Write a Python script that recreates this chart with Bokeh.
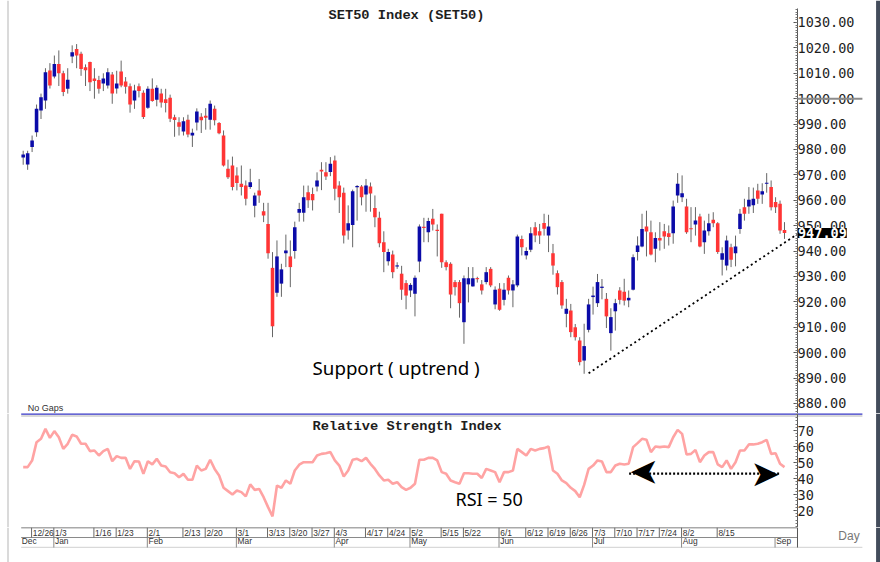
import numpy as np
from bokeh.plotting import figure
from bokeh.layouts import column
from bokeh.models import (Range1d, FixedTicker, Label, Arrow, Span, LinearAxis,
                          ColumnDataSource)
from bokeh.embed import file_html
from bokeh.resources import INLINE
from bokeh.core.properties import value

# ---------------- data ----------------
opens = [976.8, 974.1, 981.0, 986.8, 995.4, 999.3, 1011.1, 1008.7, 1013.7, 1010.0,
         1003.9, 1016.6, 1019.6, 1017.7, 1012.4, 1014.4, 1008.0, 1007.4, 1006.0, 1005.2,
         1009.5, 1004.0, 1010.7, 1006.8, 1004.9, 999.3, 1004.9, 1002.3, 996.4, 1003.9,
         999.6, 1002.0, 999.8, 1000.4, 992.7, 990.7, 987.1, 991.7, 985.5, 990.6,
         992.9, 993.3, 991.7, 996.0, 990.4, 985.5, 972.4, 973.7, 969.8, 966.5,
         965.8, 965.2, 957.9, 963.9, 955.7, 950.7, 933.4, 923.6, 927.2, 939.2,
         937.9, 940.0, 955.1, 955.1, 963.2, 962.5, 965.4, 972.0, 971.0, 971.1,
         975.7, 965.8, 963.0, 948.1, 950.3, 965.2, 965.4, 962.3, 965.4, 957.0,
         953.1, 943.5, 936.0, 938.7, 934.0, 931.1, 927.4, 924.5, 923.2, 935.9,
         949.5, 947.4, 952.7, 948.3, 954.7, 935.6, 935.0, 927.8, 927.8, 912.0,
         926.9, 926.1, 929.3, 926.9, 927.8, 933.0, 919.0, 925.2, 920.8, 929.5,
         924.5, 926.5, 944.8, 938.3, 940.5, 949.4, 947.8, 951.1, 946.1, 939.2,
         931.3, 927.8, 915.3, 916.6, 910.0, 904.8, 896.9, 909.0, 921.9, 919.5,
         925.5, 921.2, 907.7, 916.3, 924.5, 924.0, 920.6, 924.8, 939.6, 941.8,
         949.7, 947.4, 940.9, 945.2, 947.8, 947.0, 947.0, 961.9, 961.2, 957.6,
         948.9, 950.5, 953.6, 943.5, 947.8, 952.3, 951.0, 936.6, 934.3, 941.5,
         939.2, 948.7, 957.3, 957.6, 958.0, 963.9, 962.3, 966.5, 965.2, 959.3,
         958.6, 948.3]
highs = [979.5, 979.5, 985.5, 997.7, 1002.0, 1012.0, 1014.0, 1017.0, 1019.0, 1011.0,
         1012.0, 1021.0, 1021.5, 1018.5, 1013.5, 1014.6, 1012.0, 1009.0, 1010.0, 1012.0,
         1010.5, 1011.0, 1015.0, 1008.5, 1006.0, 1005.5, 1006.0, 1003.3, 1004.9, 1008.0,
         1005.3, 1003.9, 1003.9, 1001.6, 993.7, 992.7, 992.7, 993.7, 988.2, 996.2,
         994.3, 996.3, 999.3, 997.3, 990.8, 987.5, 976.0, 977.2, 973.0, 973.7,
         967.8, 972.4, 963.0, 968.4, 959.0, 959.0, 939.6, 944.2, 935.0, 946.5,
         944.2, 951.6, 959.0, 965.8, 965.8, 965.0, 971.0, 975.0, 975.0, 977.0,
         977.6, 967.5, 965.0, 958.0, 964.2, 966.0, 966.0, 968.4, 967.0, 961.9,
         955.5, 947.8, 940.9, 940.2, 935.6, 934.2, 928.6, 927.4, 930.4, 950.5,
         953.1, 953.1, 956.6, 950.5, 954.7, 936.4, 935.6, 928.6, 928.6, 930.4,
         933.7, 933.7, 929.9, 928.6, 933.7, 933.7, 926.1, 927.4, 927.4, 930.4,
         928.6, 946.5, 946.1, 941.5, 949.4, 951.4, 950.7, 954.7, 954.3, 942.8,
         932.4, 928.6, 921.2, 919.2, 911.3, 906.1, 911.4, 921.2, 926.0, 931.0,
         929.0, 923.5, 917.5, 921.2, 925.8, 929.1, 924.5, 938.7, 945.8, 954.7,
         955.9, 952.0, 947.4, 951.4, 950.7, 950.1, 959.9, 970.7, 969.8, 960.6,
         957.3, 957.3, 954.7, 952.0, 954.7, 955.3, 951.4, 941.5, 946.1, 942.9,
         946.1, 956.6, 960.6, 965.2, 965.0, 966.5, 966.7, 970.7, 967.8, 961.2,
         959.9, 951.4]
lows = [974.0, 972.0, 979.0, 985.0, 992.0, 996.0, 1004.0, 1008.0, 1005.0, 1001.0,
        1002.0, 1014.0, 1012.0, 1009.0, 1005.0, 1003.0, 1000.0, 1002.0, 1003.0, 1004.0,
        998.0, 1002.0, 1004.5, 1002.0, 994.5, 996.0, 1000.5, 992.0, 996.0, 998.8,
        997.0, 996.5, 994.6, 990.8, 985.0, 985.5, 985.5, 984.8, 981.0, 987.5,
        986.5, 987.8, 987.8, 989.5, 986.0, 973.3, 968.4, 963.9, 963.9, 961.9,
        958.0, 964.5, 953.3, 959.0, 951.4, 937.0, 906.1, 922.0, 922.0, 933.7,
        925.8, 937.0, 951.6, 951.6, 957.0, 956.0, 963.5, 964.0, 968.0, 969.5,
        960.0, 955.0, 943.0, 944.5, 941.5, 952.0, 958.0, 955.5, 955.5, 949.4,
        941.5, 931.7, 934.3, 929.3, 933.0, 920.8, 917.1, 921.9, 914.3, 931.7,
        943.5, 943.5, 948.1, 937.9, 933.4, 932.4, 917.5, 922.5, 913.8, 903.5,
        919.8, 926.0, 927.6, 922.9, 926.9, 925.8, 917.1, 916.5, 918.6, 922.9,
        917.9, 925.8, 938.3, 936.7, 939.6, 943.5, 942.8, 946.1, 939.6, 930.7,
        922.9, 917.3, 910.0, 906.1, 904.8, 895.0, 891.7, 908.0, 915.0, 918.0,
        921.0, 909.7, 900.8, 908.7, 919.0, 918.6, 917.9, 924.5, 936.3, 941.5,
        937.9, 938.3, 935.6, 940.2, 940.9, 942.2, 942.9, 959.0, 959.3, 946.8,
        943.5, 946.1, 941.5, 938.9, 946.1, 949.4, 938.9, 930.4, 932.4, 933.7,
        934.0, 946.8, 952.0, 954.7, 955.0, 958.6, 958.6, 963.0, 956.0, 955.0,
        946.8, 944.8]
closes = [978.0, 978.5, 983.5, 996.0, 1000.6, 1010.4, 1005.2, 1013.7, 1010.0, 1002.6,
          1007.5, 1018.3, 1017.0, 1011.7, 1011.2, 1006.5, 1007.0, 1003.9, 1008.0, 1010.4,
          1002.0, 1006.0, 1005.2, 1004.7, 997.7, 1003.2, 1003.0, 992.8, 1003.9, 999.1,
          1004.3, 998.5, 998.3, 992.1, 991.6, 989.0, 991.1, 985.9, 986.6, 995.0,
          991.5, 992.5, 998.0, 991.5, 986.4, 973.7, 969.1, 965.2, 966.8, 965.2,
          960.6, 967.1, 961.9, 961.9, 954.0, 939.2, 910.4, 937.9, 932.8, 940.2,
          933.7, 949.4, 956.6, 961.2, 960.0, 960.0, 967.8, 971.3, 969.4, 974.4,
          964.5, 961.2, 946.1, 951.0, 963.6, 965.6, 961.2, 965.8, 962.7, 953.3,
          943.1, 939.6, 939.6, 931.7, 934.3, 924.8, 922.5, 926.7, 929.5, 949.7,
          949.2, 951.8, 950.5, 948.0, 935.6, 933.7, 922.9, 925.8, 919.5, 929.3,
          929.3, 929.3, 929.0, 924.5, 931.7, 926.5, 924.8, 916.9, 924.8, 924.5,
          926.9, 945.7, 941.5, 940.0, 947.0, 946.1, 946.1, 948.8, 949.7, 934.3,
          925.8, 918.6, 917.3, 908.1, 906.1, 896.3, 902.6, 919.0, 922.5, 927.8,
          926.0, 914.3, 914.0, 919.5, 920.8, 920.5, 921.6, 937.6, 942.2, 948.7,
          947.7, 938.7, 945.2, 944.2, 945.7, 945.5, 957.6, 966.5, 962.8, 947.4,
          948.7, 952.0, 941.8, 948.1, 951.0, 951.0, 939.6, 939.2, 944.2, 936.6,
          941.8, 954.7, 954.7, 960.2, 960.6, 960.6, 963.6, 966.9, 957.3, 957.3,
          948.1, 947.09]
rsi = [47.1, 47.1, 51.2, 62.7, 64.8, 71.0, 65.4, 69.6, 65.8, 58.5,
       61.7, 67.3, 66.3, 61.7, 61.7, 57.1, 57.5, 54.4, 57.1, 58.5,
       50.8, 54.0, 52.9, 52.9, 46.0, 50.8, 50.6, 42.9, 50.8, 48.8,
       52.3, 48.1, 47.5, 43.9, 43.3, 40.8, 42.9, 39.2, 39.2, 48.1,
       45.0, 46.0, 51.7, 46.0, 41.9, 34.2, 32.1, 30.0, 32.5, 31.5,
       28.8, 36.3, 32.9, 33.5, 28.3, 22.1, 16.3, 35.6, 34.2, 38.8,
       36.7, 45.0, 48.6, 50.2, 50.2, 50.2, 54.4, 55.4, 55.8, 56.5,
       51.3, 48.1, 41.3, 45.0, 51.7, 52.3, 50.8, 52.9, 49.2, 46.0,
       41.9, 38.8, 39.2, 36.7, 37.7, 34.6, 32.9, 34.2, 36.7, 51.7,
       51.7, 52.9, 52.9, 51.3, 44.0, 43.0, 38.8, 37.7, 36.7, 43.3,
       43.3, 43.0, 43.0, 40.3, 46.0, 45.0, 44.0, 37.7, 44.0, 44.0,
       45.0, 58.5, 56.5, 54.4, 58.5, 57.5, 58.5, 59.0, 60.0, 45.0,
       43.0, 38.8, 37.1, 34.2, 32.1, 28.3, 36.0, 46.0, 48.1, 51.3,
       50.6, 44.0, 44.0, 48.1, 49.2, 48.8, 49.2, 59.6, 62.1, 64.8,
       64.2, 56.5, 60.0, 59.6, 60.0, 59.6, 65.8, 70.4, 67.9, 55.0,
       55.4, 57.9, 50.2, 54.4, 56.5, 56.5, 48.8, 47.1, 51.3, 46.0,
       50.2, 57.5, 57.5, 61.3, 61.3, 61.7, 62.7, 64.2, 55.4, 55.8,
       49.2, 47.1]

day_ticks = [2, 7, 16, 21, 28, 36, 41, 48, 55, 60, 65, 70, 77, 82, 87, 94, 99,
             107, 113, 118, 123, 128, 133, 138, 143, 148, 156]
day_labels = ["12/26", "1/3", "1/16", "1/23", "2/1", "2/13", "2/20", "3/1", "3/13",
              "3/20", "3/27", "4/3", "4/17", "4/24", "5/2", "5/15", "5/22", "6/1",
              "6/12", "6/19", "6/26", "7/3", "7/10", "7/17", "7/24", "8/2", "8/15"]
month_ticks = [0, 7, 28, 48, 70, 87, 107, 128, 148, 169]
month_labels = ["Dec", "Jan", "Feb", "Mar", "Apr", "May", "Jun", "Jul", "Aug", "Sep"]
price_ticks = [880, 890, 900, 910, 920, 930, 940, 950, 960, 970, 980, 990, 1000,
               1010, 1020, 1030]
rsi_ticks = [20, 30, 40, 50, 60, 70]
trend_x = [127, 174]
trend_y = [891.9, 946.8]
arrow_x = [136.1, 170.1]
arrow_level = 43.1
marker_level = 1000

# ---------------- layout constants ----------------
W = 880
n = len(closes)
idx = np.arange(n)
# whole canvas width is the frame; one bar step = 4.452 px, bar 0 at x = 22.7 px
x_range = Range1d(-5.0988, 192.565)
X_AXIS = 173.92          # where the value axis sits (x = 797 px)
X_LEFT = -0.45           # left end of the panel rules
X_FAR = 188.5            # rules running into the axis area end here
X_EDGE_L = -3.414        # light window edge on the left
X_EDGE_R = 192.09        # dark window edge on the right

BLUE = "#0b0ba8"
RED = "#ff3535"
MONO = "DejaVu Sans Mono"
FSP = "\u2007"           # figure space, keeps mono labels left-aligned


def base_fig(height, y_range):
    f = figure(width=W, height=height, x_range=x_range, y_range=y_range,
               output_backend="svg", toolbar_location=None,
               min_border_left=0, min_border_right=0,
               min_border_top=0, min_border_bottom=0,
               x_axis_location=None, y_axis_location=None)
    f.grid.visible = False
    f.outline_line_color = None
    f.background_fill_color = "white"
    f.border_fill_color = "white"
    f.add_layout(Span(location=X_EDGE_L, dimension="height",
                      line_color="#dadada", line_width=2))
    f.add_layout(Span(location=X_EDGE_R, dimension="height",
                      line_color="#434c5b", line_width=4.6))
    return f


def value_axis(f, ticks, minor, bounds, fmt):
    labels = {t: fmt.format(t).ljust(7, FSP) for t in ticks}
    ax = LinearAxis(fixed_location=X_AXIS, bounds=bounds,
                    ticker=FixedTicker(ticks=ticks, minor_ticks=minor),
                    major_label_overrides=labels)
    ax.axis_line_color = "#555555"
    ax.major_tick_in = 0
    ax.major_tick_out = 4
    ax.minor_tick_in = 0
    ax.minor_tick_out = 2
    ax.major_tick_line_color = "#555555"
    ax.minor_tick_line_color = "#777777"
    ax.major_label_standoff = -61
    ax.major_label_text_font = MONO
    ax.major_label_text_font_size = "13.5px"
    ax.major_label_text_color = "#1e1e1e"
    f.add_layout(ax, "left")
    return ax


# ---------------- price panel ----------------
p = base_fig(413, Range1d(876.06, 1038.66))
value_axis(p, price_ticks, list(range(877, 1036)), (876.06, 1035.5), "{:.2f}")

o = np.array(opens); c = np.array(closes)
up = c >= o
btop = np.maximum(o, c)
bbot = np.minimum(o, c)
thin = (btop - bbot) < 0.45
mid = (btop + bbot) / 2
btop = np.where(thin, mid + 0.225, btop)
bbot = np.where(thin, mid - 0.225, bbot)
src = ColumnDataSource(dict(x=idx, h=highs, l=lows, top=btop, bot=bbot,
                            col=[BLUE if u else RED for u in up]))
p.segment(x0="x", y0="l", x1="x", y1="h", source=src, line_color="#666666",
          line_width=1)
p.vbar(x="x", width=0.8, top="top", bottom="bot", source=src,
       fill_color="col", line_color=None)

p.line(trend_x, trend_y, line_color="black", line_width=1.8, line_dash="2 3")

p.add_layout(Label(x=86.1, y=1032.8, text="SET50 Index (SET50)",
                   text_font="Liberation Mono", text_font_style="bold",
                   text_font_size="13.7px", text_color="#1e1e1e",
                   text_align="center", text_baseline="middle"))
p.add_layout(Label(x=1.0, y=878.1, text="No  Gaps", text_font="Liberation Sans",
                   text_font_size="9px", text_color="#333333",
                   text_baseline="middle"))
p.add_layout(Label(x=65.0, y=894.2, text="Support ( uptrend )",
                   text_font="Noto Sans", text_font_size="18.7px",
                   text_color="black", text_baseline="middle"))
p.add_layout(Arrow(x_start=X_AXIS, x_end=X_FAR, y_start=marker_level,
                   y_end=marker_level, start=None, end=None,
                   line_color="#8c8c8c", line_width=2))
p.add_layout(Label(x=X_AXIS, y=closes[-1], text=f"{closes[-1]:.2f}",
                   x_offset=0.5, text_font=MONO, text_font_size="13.5px",
                   text_font_style="bold", text_color="white",
                   background_fill_color="black", text_baseline="middle"))

# ---------------- RSI panel ----------------
r = base_fig(114, Range1d(9.375, 80.625))
value_axis(r, rsi_ticks, list(range(10, 81, 2)), "auto", "{}")
r.segment(x0=[X_LEFT, X_LEFT], y0=[80.35, 79.05], x1=[X_FAR, X_FAR],
          y1=[80.35, 79.05], line_color=["#3535c4", "#b4b4b4"],
          line_width=[1.8, 1.2])
r.line(idx, rsi, line_color="#ffa3a3", line_width=2.6)
r.add_layout(Label(x=86.2, y=72.5, text="Relative Strength Index",
                   text_font="Liberation Mono", text_font_style="bold",
                   text_font_size="13.7px", text_color="#1e1e1e",
                   text_align="center", text_baseline="middle"))
r.add_layout(Label(x=97.1, y=26.9, text="RSI = 50", text_font="Noto Sans",
                   text_font_size="18px", text_color="black",
                   text_baseline="middle"))
r.line(arrow_x, [arrow_level, arrow_level], line_color="black", line_width=2.2,
       line_dash="2 2")
r.text(x=arrow_x, y=[arrow_level, arrow_level], text=["\u27a4", "\u27a4"],
       angle=[np.pi, 0.0], text_align="right", text_baseline="middle",
       text_font=value("DejaVu Sans"), text_font_size="36px",
       text_color="black")

# ---------------- date axis strip ----------------
d = base_fig(35, Range1d(-1.5, 2))
d.segment(x0=[X_LEFT, X_LEFT, X_LEFT], y0=[2, 1, 0.02],
          x1=[X_AXIS, X_AXIS, X_FAR], y1=[2, 1, 0.02],
          line_color=["#555555", "#8a8a8a", "#d0d0d0"], line_width=[1.3, 1, 1])
d.segment(x0=[X_AXIS], y0=[0], x1=[X_AXIS], y1=[2], line_color="#555555",
          line_width=1)
dt = np.array(day_ticks) - 0.12
mt = np.array(month_ticks[1:]) - 0.12
d.segment(x0=dt, y0=1, x1=dt, y1=2, line_color="#6a6a6a", line_width=1)
d.segment(x0=mt, y0=0, x1=mt, y1=1, line_color="#8a8a8a", line_width=1)
d.text(x=dt, y=1.5, text=day_labels, x_offset=1.2, text_baseline="middle",
       text_font=value("Liberation Sans"), text_font_size="8.4px",
       text_color="#333333")
mx = np.array([X_LEFT - 0.15] + list(mt))
d.text(x=mx, y=0.62, text=month_labels, x_offset=1.2, text_baseline="middle",
       text_font=value("Liberation Sans"), text_font_size="8.4px",
       text_color="#333333")
d.add_layout(Label(x=183.1, y=1.15, text="Day", text_font="Liberation Sans",
                   text_font_size="12px", text_color="#777777",
                   text_baseline="middle"))

layout = column(p, r, d, spacing=0)
open("out.html", "w").write(file_html(layout, INLINE))
